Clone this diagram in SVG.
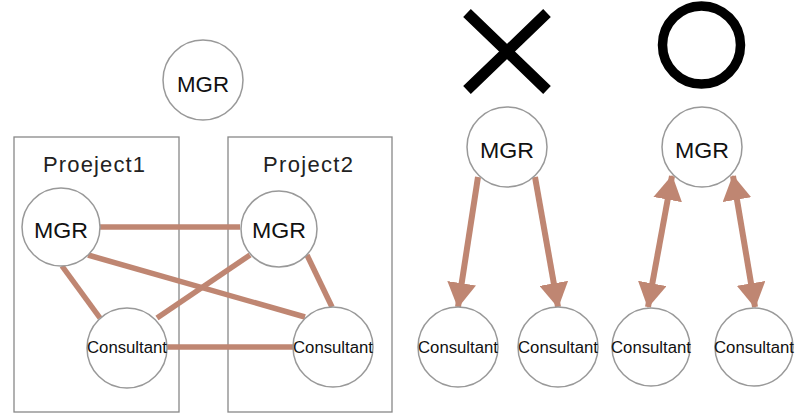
<svg xmlns="http://www.w3.org/2000/svg" width="800" height="419" viewBox="0 0 800 419">
<defs>
<style>
.node circle{fill:#fff;stroke:#999;stroke-width:1.5}
.box{fill:none;stroke:#888;stroke-width:1.3}
.big{font-family:"Liberation Sans",Arial,sans-serif;font-size:22px;fill:#111;text-anchor:middle}
.small{font-family:"Liberation Sans",Arial,sans-serif;font-size:16px;fill:#111;text-anchor:middle}
.title{font-family:"Liberation Sans",Arial,sans-serif;font-size:22px;fill:#222;text-anchor:middle}
.conn line{stroke:#bf8672;stroke-width:5.5}
.conn line.arr{stroke-width:6}
</style>
<marker id="ah" viewBox="0 0 25 29" refX="24" refY="14.5" markerWidth="25" markerHeight="29" markerUnits="userSpaceOnUse" orient="auto-start-reverse">
<path d="M0,0 L25,14.5 L0,29 Z" fill="#bf8672"/>
</marker>
</defs>
<rect width="800" height="419" fill="#fff"/>
<g id="project1"><rect class="box" x="14" y="137" width="165" height="275"/><text class="title" x="94" y="172" textLength="102" lengthAdjust="spacing">Proeject1</text></g>
<g id="project2"><rect class="box" x="228" y="137" width="164" height="275"/><text class="title" x="308" y="172" textLength="90" lengthAdjust="spacing">Project2</text></g>
<g id="cross"><path d="M467,13 L547,90 M547,13 L467,90" stroke="#000" stroke-width="11" fill="none"/></g>
<g id="ring"><circle cx="701.5" cy="45" r="39" fill="none" stroke="#000" stroke-width="9.5"/></g>
<g class="conn" id="connectors">
<line x1="100" y1="227" x2="240" y2="227"/>
<line x1="88" y1="255" x2="305" y2="317"/>
<line x1="62" y1="266" x2="100" y2="318"/>
<line x1="250" y1="255" x2="157" y2="318"/>
<line x1="307" y1="255" x2="332" y2="307"/>
<line x1="167" y1="347" x2="293" y2="347"/>
<line class="arr" x1="478" y1="177" x2="458" y2="307" marker-end="url(#ah)"/>
<line class="arr" x1="535" y1="177" x2="558" y2="307" marker-end="url(#ah)"/>
<line class="arr" x1="672" y1="176" x2="648" y2="307" marker-start="url(#ah)" marker-end="url(#ah)"/>
<line class="arr" x1="733" y1="176" x2="755" y2="307" marker-start="url(#ah)" marker-end="url(#ah)"/>
</g>
<g class="node" id="mgr-top"><circle cx="203" cy="80" r="40"/><text class="big" x="203" y="92" textLength="52" lengthAdjust="spacingAndGlyphs">MGR</text></g>
<g class="node" id="mgr-p1"><circle cx="61" cy="227" r="39"/><text class="big" x="61" y="238" textLength="54" lengthAdjust="spacingAndGlyphs">MGR</text></g>
<g class="node" id="mgr-p2"><circle cx="279" cy="229" r="38"/><text class="big" x="279" y="238" textLength="54" lengthAdjust="spacingAndGlyphs">MGR</text></g>
<g class="node" id="cons-p1"><circle cx="127" cy="348" r="40"/><text class="small" x="127" y="353" textLength="80" lengthAdjust="spacingAndGlyphs">Consultant</text></g>
<g class="node" id="cons-p2"><circle cx="333" cy="347" r="40"/><text class="small" x="333" y="353" textLength="80" lengthAdjust="spacingAndGlyphs">Consultant</text></g>
<g class="node" id="mgr-x"><circle cx="507" cy="147" r="40"/><text class="big" x="507" y="158" textLength="54" lengthAdjust="spacingAndGlyphs">MGR</text></g>
<g class="node" id="mgr-o"><circle cx="702" cy="147" r="40"/><text class="big" x="702" y="158" textLength="54" lengthAdjust="spacingAndGlyphs">MGR</text></g>
<g class="node" id="cons-x1"><circle cx="458" cy="347" r="40"/><text class="small" x="458" y="353" textLength="80" lengthAdjust="spacingAndGlyphs">Consultant</text></g>
<g class="node" id="cons-x2"><circle cx="558" cy="347" r="40"/><text class="small" x="558" y="353" textLength="80" lengthAdjust="spacingAndGlyphs">Consultant</text></g>
<g class="node" id="cons-o1"><circle cx="651" cy="347" r="39"/><text class="small" x="651" y="353" textLength="80" lengthAdjust="spacingAndGlyphs">Consultant</text></g>
<g class="node" id="cons-o2"><circle cx="754" cy="347" r="39"/><text class="small" x="754" y="353" textLength="80" lengthAdjust="spacingAndGlyphs">Consultant</text></g>
</svg>
